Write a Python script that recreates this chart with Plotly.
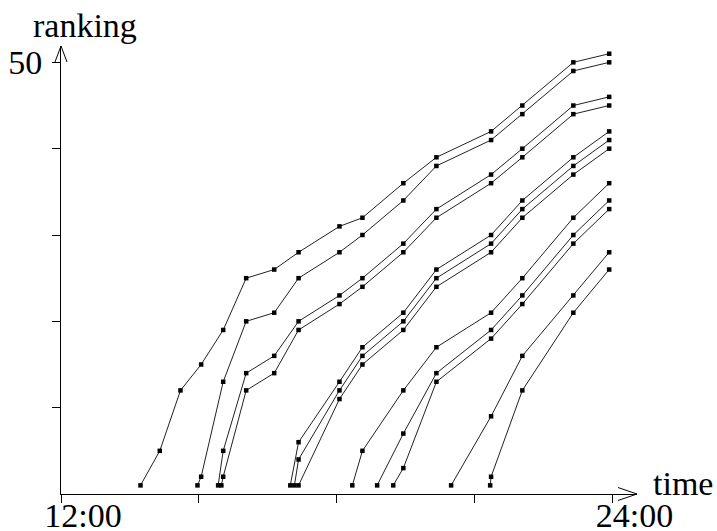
import plotly.graph_objects as go

# Times (hours, 12 = 12:00, 24 = 24:00) and rankings for each series
a_t = [13.73, 14.15, 14.60, 15.05, 15.53, 16.03, 16.64, 17.17, 18.06, 18.56, 19.45, 20.17, 21.36, 22.04, 23.15, 23.93]
a_y = [1, 5, 12, 15, 19, 25, 26, 28, 31, 32, 36, 39, 42, 45, 50, 51]
b_t = [14.97, 15.05, 15.53, 16.03, 16.64, 17.17, 18.06, 18.56, 19.45, 20.17, 21.36, 22.04, 23.15, 23.93]
b_y = [1, 2, 13, 20, 21, 25, 28, 30, 34, 38, 41, 44, 49, 50]
c_t = [15.42, 15.53, 16.03, 16.64, 17.17, 18.06, 18.56, 19.45, 20.17, 21.36, 22.04, 23.15, 23.93]
c_y = [1, 5, 14, 16, 20, 23, 25, 29, 33, 37, 40, 45, 46]
d_t = [15.49, 15.53, 16.03, 16.64, 17.17, 18.06, 18.56, 19.45, 20.17, 21.36, 22.04, 23.15, 23.93]
d_y = [1, 2, 12, 14, 19, 22, 24, 28, 32, 36, 39, 44, 45]
e_t = [16.99, 17.17, 18.06, 18.56, 19.45, 20.17, 21.36, 22.04, 23.15, 23.93]
e_y = [1, 6, 13, 17, 21, 26, 30, 34, 39, 42]
f_t = [17.08, 17.17, 18.06, 18.56, 19.45, 20.17, 21.36, 22.04, 23.15, 23.93]
f_y = [1, 4, 12, 16, 20, 25, 29, 33, 38, 41]
g_t = [17.17, 18.06, 18.56, 19.45, 20.17, 21.36, 22.04, 23.15, 23.93]
g_y = [1, 11, 15, 19, 24, 28, 32, 37, 40]
h_t = [18.34, 18.56, 19.45, 20.17, 21.36, 22.04, 23.15, 23.93]
h_y = [1, 5, 12, 17, 21, 25, 32, 36]
i_t = [18.88, 19.45, 20.17, 21.36, 22.04, 23.15, 23.93]
i_y = [1, 7, 14, 19, 23, 30, 34]
j_t = [19.23, 19.45, 20.17, 21.36, 22.04, 23.15, 23.93]
j_y = [1, 3, 13, 18, 22, 29, 33]
k_t = [20.49, 21.36, 22.04, 23.15, 23.93]
k_y = [1, 9, 16, 23, 28]
l_t = [21.34, 21.36, 22.04, 23.15, 23.93]
l_y = [1, 2, 12, 21, 26]

series = [(a_t, a_y), (b_t, b_y), (c_t, c_y), (d_t, d_y), (e_t, e_y), (f_t, f_y),
          (g_t, g_y), (h_t, h_y), (i_t, i_y), (j_t, j_y), (k_t, k_y), (l_t, l_y)]

x_tickvals = [12, 15, 18, 21, 24]
x_ticktext = ["12:00", "", "", "", "24:00"]
y_tickvals = [10, 20, 30, 40, 50]
y_ticktext = ["", "", "", "", "50"]

FONT = "Liberation Serif"
FS = 34
W, H = 717, 531
L, R, T, B = 61, 80, 46, 37
PW, PH = W - L - R, H - T - B
PX_PER_HOUR = 45.95
PX_PER_UNIT = 8.633

fig = go.Figure()
for t, y in series:
    fig.add_trace(go.Scatter(
        x=t, y=y, mode="lines+markers",
        line=dict(color="#222222", width=1),
        marker=dict(symbol="square", size=4.5, color="black", line=dict(width=0)),
        showlegend=False, hoverinfo="skip"))

def px_x(p):
    return (p - L) / PW

def px_y(p):
    return (H - B - p) / PH

shapes = [
    # y-axis arrowhead
    dict(type="path", xref="paper", yref="paper",
         path=f"M {px_x(55)} {px_y(62)} L {px_x(61)} {px_y(46)} L {px_x(67)} {px_y(62)}",
         line=dict(color="black", width=1)),
    # x-axis arrowhead
    dict(type="path", xref="paper", yref="paper",
         path=f"M {px_x(618)} {px_y(487.5)} L {px_x(637)} {px_y(494)} L {px_x(618)} {px_y(500.5)}",
         line=dict(color="black", width=1)),
]

annotations = [
    dict(text="ranking", xref="paper", yref="paper", x=px_x(31), y=px_y(25), xanchor="left",
         yanchor="middle", showarrow=False, font=dict(family=FONT, size=FS, color="black")),
    dict(text="time", xref="paper", yref="paper", x=px_x(651), y=px_y(483), xanchor="left",
         yanchor="middle", showarrow=False, font=dict(family=FONT, size=FS, color="black")),
]

fig.update_layout(
    width=W, height=H,
    margin=dict(l=L, r=R, t=T, b=B, pad=0, autoexpand=False),
    paper_bgcolor="white", plot_bgcolor="white",
    shapes=shapes, annotations=annotations,
    xaxis=dict(range=[12, 12 + PW / PX_PER_HOUR], showgrid=False, zeroline=False,
               showline=True, linecolor="black", linewidth=1, automargin=False,
               tickmode="array", tickvals=x_tickvals, ticktext=x_ticktext,
               ticks="outside", ticklen=8, tickcolor="black", tickwidth=1,
               ticklabelshift=22, ticklabelstandoff=-17,
               tickfont=dict(family=FONT, size=FS, color="black")),
    yaxis=dict(range=[0, PH / PX_PER_UNIT], showgrid=False, zeroline=False,
               showline=True, linecolor="black", linewidth=1, automargin=False,
               tickmode="array", tickvals=y_tickvals, ticktext=y_ticktext,
               ticks="outside", ticklen=8, tickcolor="black", tickwidth=1,
               ticklabelstandoff=3,
               tickfont=dict(family=FONT, size=FS, color="black")),
)

fig.write_html("out.html", config={"displayModeBar": False},
               post_script="document.body.style.margin='0';document.body.style.overflow='hidden';")
